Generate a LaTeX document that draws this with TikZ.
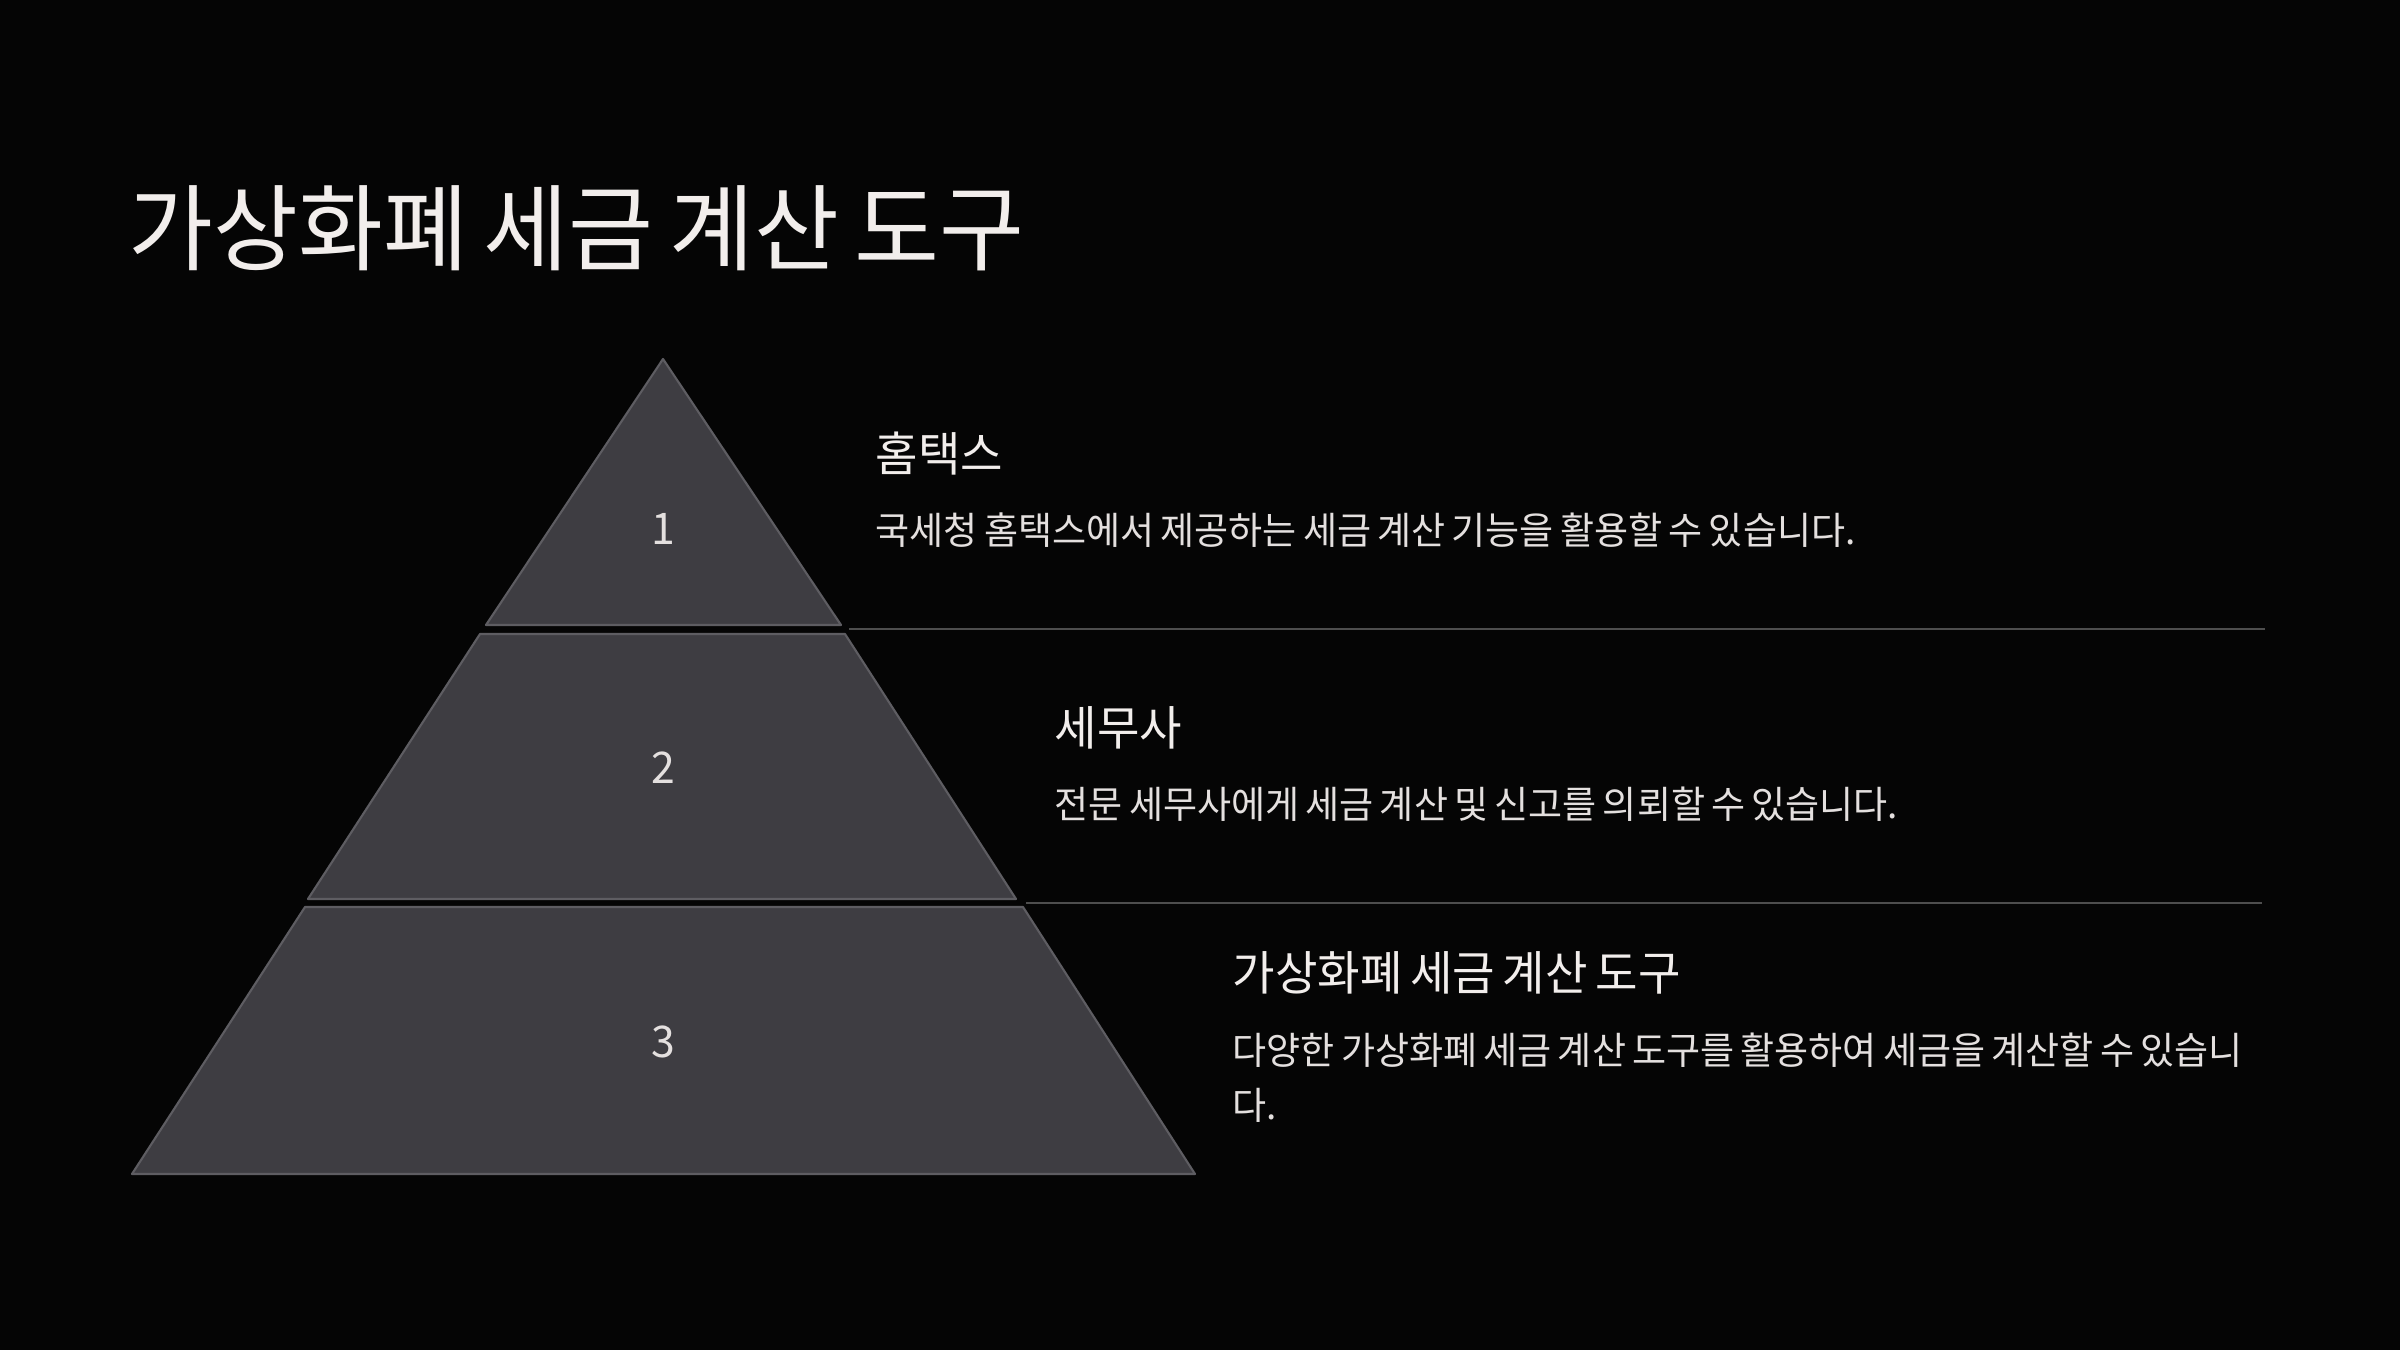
\documentclass[tikz,border=0pt]{standalone}
\usepackage{fontspec}
\setmainfont[FakeStretch=0.98,WordSpace=0.75]{Noto Sans CJK KR}
\usetikzlibrary{positioning}
\definecolor{slideBlack}{HTML}{050505}
\definecolor{tierFill}{HTML}{3E3D42}
\definecolor{tierEdge}{HTML}{5E5D62}
\definecolor{ruleGray}{HTML}{4E4E4E}
\definecolor{headWhite}{HTML}{F2EEEC}
\definecolor{bodyWhite}{HTML}{E4E0DF}

\tikzset{
  tier/.style={fill=tierFill, draw=tierEdge, line width=0.6pt, line join=round},
  tiernum/.style={anchor=base, inner sep=0pt, text=bodyWhite, font=\fontsize{12.4}{15}\selectfont},
  steptitle/.style={anchor=base west, inner sep=0pt, text=headWhite, font=\fontsize{13.4}{16}\selectfont},
  steptext/.style={anchor=base west, inner sep=0pt, align=left, text=bodyWhite, font=\fontsize{10.75}{15.6}\selectfont},
  sepline/.style={draw=ruleGray, line width=0.5pt}
}

\begin{document}
\begin{tikzpicture}[x=0.1mm, y=-0.1mm]
  \fill[slideBlack] (0,0) rectangle (2400,1350);
  \useasboundingbox (0,0) rectangle (2400,1350);

  % slide title
  \node[anchor=base west, inner sep=0pt, text=headWhite, font=\fontsize{26.8}{32}\selectfont] (title) at (128,264) {가상화폐 세금 계산 도구};

  % pyramid tiers
  \draw[tier] (663,359) -- (841,625) -- (486,625) -- cycle;
  \draw[tier] (480,634) -- (845,634) -- (1016,899) -- (308,899) -- cycle;
  \draw[tier] (305,907) -- (1023,907) -- (1195,1174) -- (132,1174) -- cycle;
  \node[tiernum] (num1) at (663,544) {1};
  \node[tiernum] (num2) at (663,783) {2};
  \node[tiernum] (num3) at (663,1057) {3};

  % separators between tiers
  \coordinate (sep1a) at (849,629);
  \coordinate (sep1b) at (2265,629);
  \coordinate (sep2a) at (1026,903);
  \coordinate (sep2b) at (2262,903);
  \draw[sepline] (sep1a) -- (sep1b);
  \draw[sepline] (sep2a) -- (sep2b);

  % tier texts (multi-line node sits on its last baseline)
  \node[steptitle] (head1) at (875,471) {홈택스};
  \node[steptext] (text1) at (875,544) {국세청 홈택스에서 제공하는 세금 계산 기능을 활용할 수 있습니다.};
  \node[steptitle] (head2) at (1054,745) {세무사};
  \node[steptext] (text2) at (1054,818) {전문 세무사에게 세금 계산 및 신고를 의뢰할 수 있습니다.};
  \node[steptitle] (head3) at (1232,990) {가상화폐 세금 계산 도구};
  \node[steptext] (text3) at (1232,1119) {다양한 가상화폐 세금 계산 도구를 활용하여 세금을 계산할 수 있습니\\다.};
\end{tikzpicture}
\end{document}
